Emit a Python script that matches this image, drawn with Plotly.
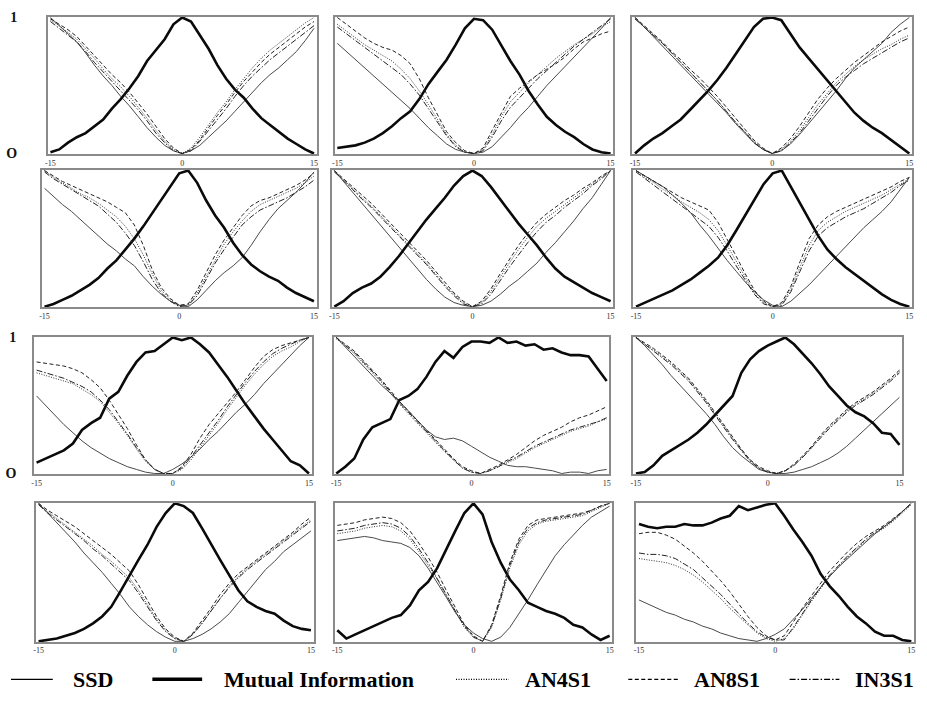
import plotly.graph_objects as go

W, H = 927, 703
X = list(range(-15, 16))
X_TICKS = [-15, 0, 15]
X_TICK_TEXT = ["-15", "0", "15"]
Y_TICKS = [0, 1]
Y_TICK_TEXT = ["O", "1"]
SERIES_NAMES = ["SSD", "Mutual Information", "AN4S1", "AN8S1", "IN3S1"]

# ---- panel 1 (row 1, col 1)
P1_SSD = [1.0,0.94,0.88,0.82,0.74,0.65,0.57,0.5,0.42,0.35,0.27,0.19,0.12,0.06,0.02,0.0,0.02,0.06,0.12,0.18,0.24,0.31,0.38,0.45,0.52,0.58,0.63,0.69,0.75,0.83,0.92]
P1_MI = [0.01,0.03,0.08,0.12,0.15,0.2,0.25,0.33,0.4,0.48,0.57,0.68,0.76,0.84,0.95,1.0,0.97,0.87,0.77,0.65,0.55,0.47,0.41,0.33,0.26,0.21,0.16,0.11,0.07,0.03,0.0]
P1_AN4 = [0.98,0.94,0.89,0.84,0.77,0.7,0.62,0.55,0.49,0.42,0.34,0.26,0.17,0.09,0.03,0.0,0.04,0.12,0.21,0.3,0.38,0.47,0.55,0.63,0.7,0.76,0.81,0.86,0.91,0.96,1.0]
P1_AN8 = [0.99,0.95,0.91,0.86,0.79,0.72,0.65,0.58,0.52,0.45,0.37,0.29,0.2,0.11,0.04,0.0,0.03,0.1,0.19,0.28,0.36,0.45,0.53,0.6,0.67,0.73,0.78,0.83,0.88,0.93,0.97]
P1_IN3 = [0.97,0.92,0.87,0.82,0.75,0.67,0.6,0.53,0.46,0.39,0.32,0.24,0.15,0.08,0.02,0.0,0.02,0.09,0.17,0.25,0.33,0.42,0.5,0.57,0.63,0.69,0.74,0.79,0.84,0.89,0.94]

# ---- panel 2 (row 1, col 2)
P2_SSD = [0.81,0.75,0.69,0.63,0.57,0.51,0.45,0.39,0.33,0.26,0.19,0.13,0.07,0.03,0.01,0.0,0.01,0.05,0.12,0.19,0.27,0.34,0.42,0.5,0.57,0.64,0.71,0.78,0.85,0.92,1.0]
P2_MI = [0.04,0.05,0.06,0.08,0.11,0.15,0.2,0.26,0.31,0.4,0.51,0.6,0.69,0.8,0.92,0.99,0.98,0.91,0.79,0.68,0.58,0.46,0.36,0.27,0.21,0.16,0.12,0.07,0.03,0.01,0.0]
P2_AN4 = [0.95,0.9,0.85,0.8,0.76,0.72,0.68,0.62,0.55,0.46,0.36,0.25,0.14,0.06,0.01,0.0,0.03,0.14,0.27,0.38,0.45,0.52,0.58,0.64,0.7,0.75,0.8,0.84,0.88,0.93,0.97]
P2_AN8 = [1.0,0.95,0.9,0.85,0.81,0.78,0.76,0.72,0.66,0.55,0.41,0.28,0.16,0.08,0.02,0.0,0.04,0.17,0.3,0.42,0.48,0.53,0.58,0.62,0.66,0.71,0.77,0.82,0.85,0.88,0.9]
P2_IN3 = [0.93,0.88,0.83,0.78,0.73,0.68,0.63,0.58,0.51,0.43,0.33,0.23,0.13,0.05,0.01,0.0,0.02,0.12,0.24,0.34,0.41,0.48,0.55,0.61,0.67,0.73,0.79,0.84,0.89,0.94,0.99]

# ---- panel 3 (row 1, col 3)
P3_SSD = [1.0,0.93,0.86,0.79,0.72,0.65,0.58,0.51,0.44,0.37,0.3,0.22,0.15,0.08,0.03,0.0,0.02,0.07,0.14,0.22,0.3,0.38,0.46,0.55,0.63,0.69,0.75,0.81,0.89,0.95,1.0]
P3_MI = [0.0,0.06,0.11,0.15,0.2,0.25,0.32,0.39,0.46,0.54,0.63,0.73,0.83,0.93,0.99,1.0,0.98,0.88,0.78,0.7,0.62,0.54,0.46,0.38,0.3,0.24,0.19,0.15,0.1,0.05,0.0]
P3_AN4 = [0.99,0.93,0.87,0.81,0.74,0.67,0.6,0.53,0.46,0.39,0.31,0.23,0.16,0.09,0.03,0.0,0.03,0.09,0.17,0.27,0.36,0.44,0.52,0.58,0.64,0.69,0.73,0.77,0.8,0.84,0.87]
P3_AN8 = [1.0,0.94,0.88,0.82,0.75,0.69,0.62,0.56,0.49,0.42,0.34,0.26,0.18,0.1,0.04,0.0,0.04,0.11,0.2,0.3,0.4,0.48,0.55,0.61,0.67,0.72,0.77,0.82,0.86,0.9,0.93]
P3_IN3 = [0.99,0.93,0.87,0.81,0.74,0.67,0.6,0.53,0.46,0.39,0.31,0.23,0.16,0.08,0.03,0.0,0.02,0.08,0.15,0.24,0.33,0.42,0.5,0.56,0.61,0.66,0.7,0.74,0.78,0.82,0.85]

# ---- panel 4 (row 2, col 1)
P4_SSD = [0.87,0.81,0.75,0.7,0.64,0.58,0.52,0.46,0.41,0.35,0.3,0.22,0.15,0.09,0.04,0.01,0.0,0.05,0.12,0.19,0.25,0.3,0.36,0.45,0.55,0.64,0.72,0.78,0.84,0.91,0.99]
P4_MI = [0.0,0.02,0.05,0.08,0.12,0.16,0.21,0.28,0.34,0.42,0.5,0.59,0.69,0.79,0.89,0.98,1.0,0.91,0.78,0.67,0.58,0.47,0.38,0.31,0.26,0.22,0.19,0.14,0.1,0.07,0.04]
P4_AN4 = [1.0,0.95,0.91,0.87,0.83,0.8,0.76,0.71,0.66,0.59,0.5,0.38,0.24,0.12,0.05,0.01,0.01,0.1,0.22,0.35,0.46,0.55,0.63,0.7,0.75,0.78,0.81,0.84,0.87,0.91,0.96]
P4_AN8 = [1.0,0.96,0.92,0.89,0.86,0.83,0.8,0.77,0.73,0.69,0.6,0.45,0.27,0.14,0.06,0.01,0.02,0.12,0.25,0.38,0.49,0.58,0.67,0.74,0.78,0.8,0.83,0.86,0.89,0.93,0.98]
P4_IN3 = [0.99,0.94,0.9,0.86,0.82,0.78,0.74,0.68,0.62,0.54,0.45,0.33,0.2,0.1,0.04,0.0,0.01,0.08,0.2,0.32,0.42,0.51,0.6,0.66,0.71,0.74,0.77,0.8,0.84,0.88,0.93]

# ---- panel 5 (row 2, col 2)
P5_SSD = [1.0,0.92,0.84,0.76,0.68,0.6,0.52,0.44,0.36,0.28,0.2,0.13,0.07,0.03,0.01,0.0,0.01,0.04,0.09,0.15,0.2,0.26,0.32,0.4,0.47,0.55,0.63,0.72,0.8,0.9,1.0]
P5_MI = [0.0,0.04,0.1,0.14,0.17,0.22,0.29,0.37,0.46,0.55,0.64,0.72,0.8,0.89,0.96,1.0,0.96,0.88,0.79,0.7,0.61,0.53,0.45,0.36,0.28,0.22,0.18,0.14,0.1,0.07,0.04]
P5_AN4 = [1.0,0.93,0.87,0.8,0.74,0.67,0.6,0.53,0.46,0.39,0.32,0.24,0.16,0.09,0.03,0.0,0.03,0.11,0.22,0.32,0.42,0.51,0.59,0.65,0.7,0.75,0.8,0.85,0.9,0.95,1.0]
P5_AN8 = [1.0,0.94,0.88,0.82,0.76,0.69,0.62,0.55,0.48,0.41,0.34,0.26,0.18,0.1,0.04,0.0,0.04,0.13,0.24,0.35,0.45,0.54,0.62,0.68,0.73,0.78,0.82,0.87,0.91,0.96,1.0]
P5_IN3 = [0.99,0.93,0.86,0.79,0.73,0.66,0.59,0.52,0.45,0.38,0.31,0.23,0.15,0.08,0.02,0.0,0.02,0.09,0.19,0.29,0.38,0.47,0.55,0.62,0.67,0.73,0.78,0.83,0.89,0.94,1.0]

# ---- panel 6 (row 2, col 3)
P6_SSD = [1.0,0.96,0.92,0.88,0.82,0.76,0.69,0.6,0.52,0.43,0.34,0.26,0.18,0.11,0.05,0.01,0.0,0.04,0.1,0.16,0.23,0.3,0.37,0.44,0.51,0.58,0.64,0.7,0.77,0.86,0.95]
P6_MI = [0.0,0.03,0.06,0.09,0.12,0.16,0.2,0.25,0.3,0.36,0.45,0.56,0.67,0.78,0.9,0.98,1.0,0.88,0.76,0.64,0.52,0.42,0.35,0.29,0.24,0.19,0.14,0.09,0.05,0.02,0.0]
P6_AN4 = [1.0,0.95,0.91,0.86,0.82,0.77,0.73,0.69,0.64,0.56,0.45,0.33,0.21,0.1,0.03,0.0,0.02,0.13,0.29,0.45,0.56,0.62,0.66,0.7,0.73,0.76,0.79,0.82,0.86,0.9,0.94]
P6_AN8 = [1.0,0.96,0.92,0.88,0.84,0.8,0.77,0.74,0.71,0.62,0.5,0.37,0.24,0.12,0.04,0.0,0.03,0.15,0.33,0.5,0.6,0.66,0.7,0.73,0.76,0.79,0.82,0.85,0.88,0.92,0.95]
P6_IN3 = [0.99,0.94,0.89,0.84,0.79,0.74,0.69,0.64,0.59,0.51,0.41,0.3,0.19,0.09,0.02,0.0,0.01,0.11,0.26,0.41,0.52,0.58,0.62,0.66,0.69,0.72,0.76,0.8,0.84,0.89,0.93]

# ---- panel 7 (row 3, col 1)
P7_SSD = [0.57,0.5,0.43,0.36,0.3,0.24,0.19,0.15,0.11,0.08,0.05,0.03,0.01,0.0,0.0,0.03,0.07,0.12,0.18,0.25,0.31,0.38,0.45,0.51,0.58,0.66,0.73,0.8,0.87,0.94,1.0]
P7_MI = [0.08,0.11,0.14,0.17,0.22,0.32,0.37,0.41,0.55,0.6,0.72,0.82,0.89,0.9,0.95,1.0,0.98,1.0,0.95,0.89,0.8,0.71,0.61,0.51,0.42,0.33,0.25,0.17,0.09,0.06,0.0]
P7_AN4 = [0.74,0.72,0.7,0.68,0.66,0.62,0.58,0.53,0.45,0.37,0.28,0.18,0.09,0.03,0.0,0.0,0.03,0.1,0.19,0.28,0.37,0.47,0.56,0.65,0.73,0.8,0.86,0.9,0.93,0.97,1.0]
P7_AN8 = [0.82,0.81,0.8,0.79,0.77,0.74,0.69,0.63,0.54,0.44,0.33,0.21,0.1,0.03,0.0,0.0,0.05,0.14,0.26,0.36,0.44,0.52,0.6,0.69,0.78,0.86,0.91,0.94,0.96,0.98,1.0]
P7_IN3 = [0.76,0.74,0.72,0.7,0.67,0.64,0.6,0.54,0.47,0.38,0.29,0.19,0.1,0.03,0.0,0.0,0.04,0.12,0.21,0.3,0.39,0.49,0.58,0.67,0.75,0.82,0.88,0.92,0.95,0.98,1.0]

# ---- panel 8 (row 3, col 2)
P8_SSD = [1.0,0.93,0.86,0.79,0.72,0.65,0.59,0.53,0.46,0.39,0.32,0.27,0.25,0.26,0.24,0.2,0.16,0.12,0.09,0.06,0.05,0.05,0.04,0.03,0.02,0.0,0.01,0.01,0.0,0.02,0.03]
P8_MI = [0.0,0.05,0.11,0.25,0.34,0.37,0.4,0.54,0.57,0.62,0.71,0.82,0.9,0.85,0.93,0.97,0.97,0.96,1.0,0.96,0.97,0.94,0.95,0.91,0.92,0.89,0.87,0.87,0.86,0.77,0.68]
P8_AN4 = [0.99,0.94,0.88,0.81,0.74,0.67,0.59,0.51,0.44,0.37,0.3,0.23,0.16,0.1,0.04,0.01,0.0,0.02,0.05,0.08,0.11,0.15,0.19,0.22,0.25,0.28,0.31,0.33,0.35,0.38,0.4]
P8_AN8 = [1.0,0.95,0.9,0.83,0.76,0.69,0.61,0.53,0.46,0.39,0.32,0.25,0.18,0.11,0.05,0.02,0.0,0.03,0.06,0.1,0.14,0.19,0.24,0.28,0.31,0.34,0.38,0.41,0.43,0.46,0.49]
P8_IN3 = [1.0,0.94,0.89,0.82,0.75,0.68,0.6,0.52,0.45,0.38,0.31,0.24,0.17,0.1,0.04,0.01,0.0,0.02,0.05,0.09,0.12,0.16,0.2,0.23,0.26,0.29,0.32,0.34,0.36,0.38,0.41]

# ---- panel 9 (row 3, col 3)
P9_SSD = [1.0,0.94,0.87,0.8,0.72,0.65,0.58,0.51,0.44,0.36,0.27,0.19,0.13,0.08,0.03,0.01,0.0,0.0,0.01,0.03,0.05,0.08,0.11,0.15,0.2,0.26,0.32,0.38,0.44,0.5,0.56]
P9_MI = [0.0,0.01,0.06,0.13,0.17,0.21,0.25,0.3,0.36,0.43,0.5,0.57,0.74,0.84,0.9,0.94,0.97,1.0,0.95,0.88,0.81,0.73,0.64,0.57,0.5,0.45,0.42,0.37,0.3,0.29,0.21]
P9_AN4 = [1.0,0.95,0.91,0.86,0.81,0.75,0.69,0.61,0.53,0.44,0.35,0.26,0.17,0.1,0.04,0.01,0.0,0.02,0.06,0.12,0.19,0.27,0.34,0.4,0.46,0.51,0.55,0.59,0.64,0.69,0.75]
P9_AN8 = [1.0,0.96,0.92,0.87,0.82,0.76,0.7,0.62,0.54,0.45,0.36,0.27,0.18,0.1,0.05,0.02,0.0,0.02,0.07,0.13,0.2,0.28,0.35,0.41,0.47,0.52,0.56,0.6,0.65,0.7,0.76]
P9_IN3 = [1.0,0.95,0.9,0.85,0.8,0.74,0.68,0.6,0.52,0.43,0.34,0.25,0.17,0.09,0.04,0.01,0.0,0.02,0.06,0.12,0.19,0.26,0.33,0.39,0.45,0.5,0.54,0.58,0.63,0.68,0.74]

# ---- panel 10 (row 4, col 1)
P10_SSD = [1.0,0.93,0.86,0.79,0.72,0.64,0.57,0.5,0.42,0.34,0.25,0.18,0.12,0.07,0.03,0.0,0.0,0.02,0.05,0.09,0.14,0.2,0.28,0.36,0.44,0.52,0.58,0.65,0.7,0.75,0.8]
P10_MI = [0.0,0.01,0.02,0.04,0.06,0.09,0.13,0.18,0.25,0.36,0.48,0.59,0.7,0.83,0.93,1.0,0.98,0.93,0.82,0.7,0.59,0.48,0.37,0.29,0.25,0.22,0.2,0.15,0.11,0.09,0.08]
P10_AN4 = [0.99,0.94,0.89,0.84,0.79,0.74,0.69,0.63,0.58,0.52,0.46,0.37,0.26,0.16,0.08,0.02,0.0,0.05,0.13,0.22,0.31,0.4,0.47,0.53,0.58,0.63,0.68,0.73,0.78,0.83,0.88]
P10_AN8 = [1.0,0.95,0.91,0.87,0.83,0.78,0.73,0.68,0.63,0.57,0.51,0.41,0.29,0.18,0.09,0.03,0.0,0.06,0.15,0.24,0.34,0.42,0.49,0.54,0.59,0.64,0.69,0.74,0.79,0.85,0.9]
P10_IN3 = [0.99,0.93,0.88,0.83,0.78,0.73,0.67,0.62,0.56,0.5,0.44,0.35,0.25,0.15,0.07,0.02,0.0,0.05,0.13,0.22,0.31,0.39,0.46,0.52,0.57,0.62,0.67,0.72,0.77,0.82,0.87]

# ---- panel 11 (row 4, col 2)
P11_SSD = [0.73,0.74,0.75,0.76,0.75,0.73,0.72,0.71,0.68,0.62,0.53,0.43,0.32,0.21,0.12,0.06,0.02,0.0,0.03,0.1,0.2,0.3,0.41,0.52,0.62,0.7,0.77,0.84,0.9,0.94,0.98]
P11_MI = [0.08,0.02,0.05,0.08,0.11,0.14,0.17,0.19,0.26,0.37,0.43,0.53,0.67,0.8,0.93,1.0,0.92,0.72,0.57,0.45,0.37,0.28,0.25,0.22,0.2,0.17,0.12,0.1,0.05,0.01,0.04]
P11_AN4 = [0.78,0.79,0.8,0.82,0.83,0.84,0.83,0.8,0.74,0.65,0.55,0.45,0.33,0.21,0.1,0.03,0.0,0.1,0.3,0.53,0.7,0.8,0.85,0.87,0.88,0.89,0.9,0.91,0.94,0.97,1.0]
P11_AN8 = [0.84,0.85,0.86,0.88,0.89,0.9,0.89,0.86,0.8,0.71,0.61,0.5,0.37,0.24,0.12,0.04,0.0,0.12,0.33,0.57,0.74,0.84,0.88,0.89,0.9,0.91,0.92,0.93,0.95,0.98,1.0]
P11_IN3 = [0.8,0.81,0.82,0.84,0.85,0.86,0.85,0.82,0.76,0.67,0.57,0.46,0.34,0.22,0.11,0.03,0.0,0.11,0.31,0.55,0.72,0.82,0.86,0.88,0.89,0.9,0.91,0.92,0.95,0.98,1.0]

# ---- panel 12 (row 4, col 3)
P12_SSD = [0.3,0.27,0.24,0.21,0.19,0.16,0.14,0.11,0.09,0.06,0.04,0.02,0.01,0.0,0.02,0.05,0.09,0.16,0.23,0.31,0.39,0.47,0.54,0.6,0.66,0.72,0.78,0.83,0.88,0.94,1.0]
P12_MI = [0.85,0.83,0.82,0.83,0.83,0.85,0.84,0.84,0.86,0.89,0.91,0.98,0.95,0.97,0.99,1.0,0.91,0.81,0.72,0.62,0.49,0.4,0.33,0.25,0.18,0.13,0.07,0.04,0.04,0.01,0.0]
P12_AN4 = [0.6,0.59,0.58,0.57,0.55,0.52,0.48,0.43,0.37,0.31,0.24,0.18,0.12,0.06,0.02,0.0,0.02,0.09,0.19,0.29,0.38,0.47,0.54,0.61,0.67,0.73,0.78,0.82,0.87,0.93,0.99]
P12_AN8 = [0.78,0.79,0.79,0.77,0.74,0.69,0.64,0.58,0.51,0.44,0.36,0.27,0.18,0.1,0.04,0.01,0.04,0.14,0.24,0.33,0.42,0.51,0.58,0.65,0.71,0.76,0.8,0.84,0.89,0.94,1.0]
P12_IN3 = [0.64,0.63,0.63,0.62,0.6,0.56,0.52,0.46,0.4,0.34,0.27,0.2,0.13,0.07,0.03,0.01,0.01,0.1,0.2,0.3,0.39,0.48,0.55,0.62,0.68,0.74,0.79,0.83,0.88,0.94,1.0]

PANELS = [
    (P1_SSD, P1_MI, P1_AN4, P1_AN8, P1_IN3),
    (P2_SSD, P2_MI, P2_AN4, P2_AN8, P2_IN3),
    (P3_SSD, P3_MI, P3_AN4, P3_AN8, P3_IN3),
    (P4_SSD, P4_MI, P4_AN4, P4_AN8, P4_IN3),
    (P5_SSD, P5_MI, P5_AN4, P5_AN8, P5_IN3),
    (P6_SSD, P6_MI, P6_AN4, P6_AN8, P6_IN3),
    (P7_SSD, P7_MI, P7_AN4, P7_AN8, P7_IN3),
    (P8_SSD, P8_MI, P8_AN4, P8_AN8, P8_IN3),
    (P9_SSD, P9_MI, P9_AN4, P9_AN8, P9_IN3),
    (P10_SSD, P10_MI, P10_AN4, P10_AN8, P10_IN3),
    (P11_SSD, P11_MI, P11_AN4, P11_AN8, P11_IN3),
    (P12_SSD, P12_MI, P12_AN4, P12_AN8, P12_IN3),
]

# pixel boxes (left, right, top, bottom) of each panel
BOXES = [
    (45, 315, 11, 151), (333, 613, 11, 151), (632, 913, 11, 151),
    (39, 315, 167, 307), (330, 613, 167, 307), (633, 913, 167, 307),
    (31, 310, 337, 477), (332, 609, 337, 477), (633, 903, 337, 477),
    (33, 312, 506, 648), (333, 612, 506, 648), (636, 915, 506, 648),
]

STYLES = [
    dict(color="#4a4a4a", width=1.0, dash="solid"),
    dict(color="#0a0a0a", width=2.6, dash="solid"),
    dict(color="#333333", width=1.0, dash="1px,1.5px"),
    dict(color="#222222", width=1.0, dash="4px,2.5px"),
    dict(color="#222222", width=1.0, dash="6px,2px,1.5px,2px"),
]

fig = go.Figure()
layout = dict(
    width=W, height=H, margin=dict(l=0, r=0, t=0, b=0),
    paper_bgcolor="white", plot_bgcolor="white", showlegend=False,
)

for i, (series, box) in enumerate(zip(PANELS, BOXES)):
    k = "" if i == 0 else str(i + 1)
    l, r, t, b = box
    for name, ys, st in zip(SERIES_NAMES, series, STYLES):
        fig.add_trace(go.Scatter(x=X, y=ys, mode="lines", name=name,
                                 line=st, xaxis="x" + k, yaxis="y" + k,
                                 hoverinfo="skip"))
    show_y = i in (0, 6)
    layout["xaxis" + k] = dict(
        domain=[l / W, r / W], anchor="y" + k, range=[-15.3, 15.3],
        tickvals=X_TICKS, ticktext=X_TICK_TEXT, showgrid=False, zeroline=False,
        showline=True, linecolor="#8a8a8a", linewidth=1.5, mirror=True,
        ticks="", tickfont=dict(family="Liberation Serif", size=8, color="#333"),
    )
    layout["yaxis" + k] = dict(
        domain=[1 - b / H, 1 - t / H], anchor="x" + k, range=[-0.005, 1.005],
        tickvals=Y_TICKS, ticktext=Y_TICK_TEXT, showticklabels=show_y,
        ticklabelstandoff=(26 if i == 0 else 13),
        showgrid=False, zeroline=False, showline=True, linecolor="#8a8a8a",
        linewidth=1.5, mirror=True, ticks="",
        tickfont=dict(family="Liberation Serif", size=14, color="#111", weight="bold"),
    )

fig.update_layout(**layout)

# legend drawn as line samples and labels
LEG_Y = 1 - 686 / H
LEG_LINES = [(8, 50), (150, 200), (455, 508), (628, 680), (790, 840)]
LEG_TEXT_X = [68, 220, 522, 692, 854]
for name, st, (x0, x1), tx in zip(SERIES_NAMES, STYLES, LEG_LINES, LEG_TEXT_X):
    w = 3.6 if name == "Mutual Information" else 1.3
    fig.add_shape(type="line", xref="paper", yref="paper",
                  x0=x0 / W, x1=x1 / W, y0=LEG_Y, y1=LEG_Y,
                  line=dict(color="#000", width=w, dash=st["dash"]))
    fig.add_annotation(text=name, xref="paper", yref="paper", x=tx / W, y=LEG_Y,
                       xanchor="left", yanchor="middle", showarrow=False,
                       font=dict(family="Liberation Serif", size=22, color="#000", weight="bold"))

fig.write_html("out.html", config={"displayModeBar": False},
               post_script="document.body.style.margin='0';")
